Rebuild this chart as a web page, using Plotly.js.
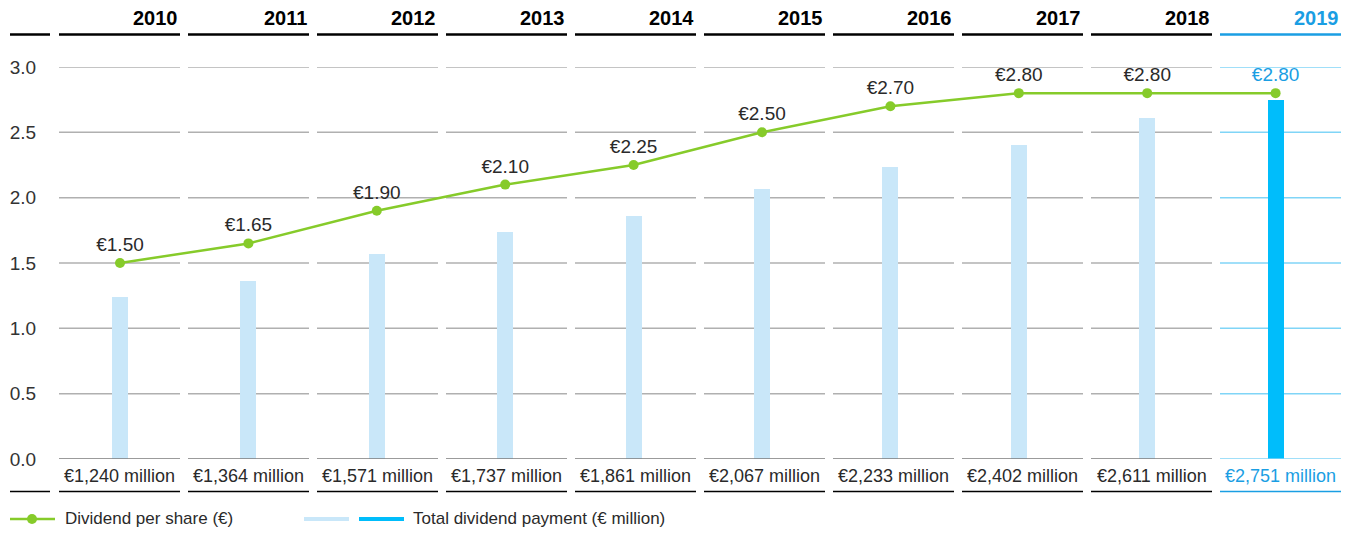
<!DOCTYPE html>
<html>
<head>
<meta charset="utf-8">
<script src="https://cdn.plot.ly/plotly-3.0.1.min.js"></script>
<style>
  html, body { margin: 0; padding: 0; background: #fff; }
  #chart { width: 1359px; height: 534px; }
</style>
</head>
<body>
<div id="chart"></div>
<script>
const years = ['2010', '2011', '2012', '2013', '2014', '2015', '2016', '2017', '2018', '2019'];
const dividendPerShare = [1.50, 1.65, 1.90, 2.10, 2.25, 2.50, 2.70, 2.80, 2.80, 2.80];
const totalPayment = [1240, 1364, 1571, 1737, 1861, 2067, 2233, 2402, 2611, 2751];
const yTicks = [0, 0.5, 1.0, 1.5, 2.0, 2.5, 3.0];

const FONT = 'Liberation Sans, Arial, sans-serif';
const GREEN = '#86cb2a';
const LIGHT_BLUE = '#c9e7f9';
const BLUE = '#00bdfb';
const BLUE_TEXT = '#1a9ee3';
const BLUE_GRID = '#80d5f7';
const TEXT = '#2a2a2a';

// columns are a touch wider apart than the data points
const UNIT = 128.4;                       // px per x unit
const colCenter = i => (-0.5 + 129 * i) / UNIT;
const HALF = 60.5 / UNIT;

const last = years.length - 1;
const xs = years.map((_, i) => i);
const isLast = i => i === last;

const shapes = [];
const annotations = [];

years.forEach((y, i) => {
    const c = colCenter(i);
    yTicks.forEach(t => {
        if (t === 0) return;
        shapes.push({
            type: 'line', layer: 'below', xref: 'x', yref: 'y',
            x0: c - HALF, x1: c + HALF, y0: t, y1: t,
            line: { color: isLast(i) ? BLUE_GRID : '#b0b0b0', width: 1.5 }
        });
    });
    // zero line
    shapes.push({
        type: 'line', layer: 'above', xref: 'x', yref: 'y',
        x0: c - HALF, x1: c + HALF, y0: 0, y1: 0,
        line: { color: isLast(i) ? BLUE_GRID : '#7a7a7a', width: 1.5 }
    });
    // header line
    shapes.push({
        type: 'line', xref: 'x', yref: 'paper',
        x0: c - HALF, x1: c + HALF, y0: 1.083, y1: 1.083,
        line: { color: isLast(i) ? BLUE_TEXT : '#000', width: 2.5 }
    });
    // bottom line
    shapes.push({
        type: 'line', xref: 'x', yref: 'paper',
        x0: c - HALF, x1: c + HALF, y0: -0.083, y1: -0.083,
        line: { color: isLast(i) ? BLUE_TEXT : '#000', width: 1.5 }
    });
    annotations.push({
        text: '<b>' + y + '</b>', xref: 'x', yref: 'paper',
        x: c + HALF, y: 1.124, xanchor: 'right', yanchor: 'middle', showarrow: false,
        font: { family: FONT, size: 20, color: isLast(i) ? BLUE_TEXT : '#000' }
    });
    annotations.push({
        text: '€' + totalPayment[i].toLocaleString('en-US') + ' million', xref: 'x', yref: 'paper',
        x: c, y: -0.043, xanchor: 'center', yanchor: 'middle', showarrow: false,
        font: { family: FONT, size: 18, color: isLast(i) ? BLUE_TEXT : TEXT }
    });
});

// left header / bottom stubs (paper = 1290 px wide starting at 55)
const px = p => (p - 55) / 1290;
shapes.push({ type: 'line', xref: 'paper', yref: 'paper', x0: px(10), x1: px(50), y0: 1.083, y1: 1.083, line: { color: '#000', width: 2.5 } });
shapes.push({ type: 'line', xref: 'paper', yref: 'paper', x0: px(10), x1: px(50), y0: -0.083, y1: -0.083, line: { color: '#000', width: 1.5 } });

// legend
const LEG_Y = -0.153;
shapes.push({ type: 'line', xref: 'paper', yref: 'paper', x0: px(10), x1: px(55), y0: LEG_Y, y1: LEG_Y, line: { color: GREEN, width: 2.5 } });
shapes.push({
    type: 'circle', xref: 'paper', yref: 'paper', xsizemode: 'pixel', ysizemode: 'pixel',
    xanchor: px(32), yanchor: LEG_Y, x0: -5, x1: 5, y0: -5, y1: 5,
    fillcolor: GREEN, line: { width: 0 }
});
shapes.push({ type: 'line', xref: 'paper', yref: 'paper', x0: px(304), x1: px(349), y0: LEG_Y, y1: LEG_Y, line: { color: LIGHT_BLUE, width: 4 } });
shapes.push({ type: 'line', xref: 'paper', yref: 'paper', x0: px(359), x1: px(404), y0: LEG_Y, y1: LEG_Y, line: { color: BLUE, width: 4 } });
annotations.push({
    text: 'Dividend per share (€)', xref: 'paper', yref: 'paper', x: px(63), y: LEG_Y,
    xanchor: 'left', yanchor: 'middle', showarrow: false, font: { family: FONT, size: 17, color: TEXT }
});
annotations.push({
    text: 'Total dividend payment (€ million)', xref: 'paper', yref: 'paper', x: px(411), y: LEG_Y,
    xanchor: 'left', yanchor: 'middle', showarrow: false, font: { family: FONT, size: 17, color: TEXT }
});

const bars = {
    type: 'bar', x: xs, y: totalPayment.map(v => v / 1000), width: 16 / UNIT,
    marker: { color: xs.map(i => isLast(i) ? BLUE : LIGHT_BLUE), line: { width: 0 } },
    hoverinfo: 'skip', showlegend: false
};

const line = {
    type: 'scatter', mode: 'lines+markers+text', x: xs, y: dividendPerShare,
    line: { color: GREEN, width: 2.5 },
    marker: { color: GREEN, size: 10 },
    text: dividendPerShare.map(v => '€' + v.toFixed(2)),
    textposition: 'top center',
    textfont: { family: FONT, size: 19, color: xs.map(i => isLast(i) ? BLUE_TEXT : TEXT) },
    cliponaxis: false, showlegend: false
};

const layout = {
    width: 1359, height: 534,
    margin: { l: 55, r: 14, t: 67, b: 75 },
    paper_bgcolor: '#fff', plot_bgcolor: '#fff',
    font: { family: FONT, color: TEXT },
    showlegend: false,
    bargap: 0,
    xaxis: {
        range: [-65 / UNIT, 1225 / UNIT], showticklabels: false, showgrid: false, zeroline: false,
        showline: false, ticks: '', fixedrange: true
    },
    yaxis: {
        range: [0, 3], tickvals: yTicks, ticktext: yTicks.map(v => v.toFixed(1)),
        showgrid: false, zeroline: false, showline: false,
        ticks: 'outside', ticklen: 14, tickcolor: 'rgba(0,0,0,0)',
        tickfont: { family: FONT, size: 19, color: '#333' }, fixedrange: true
    },
    shapes, annotations
};

Plotly.newPlot('chart', [bars, line], layout, { displayModeBar: false, staticPlot: true });
</script>
</body>
</html>
